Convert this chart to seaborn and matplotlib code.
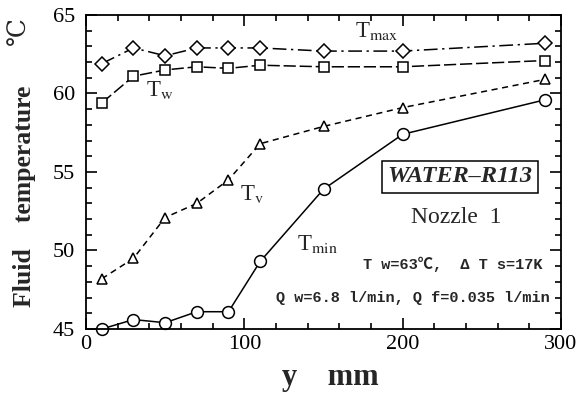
import matplotlib
matplotlib.use("Agg")
import matplotlib.pyplot as plt
import seaborn as sns
import pandas as pd
from matplotlib.ticker import MultipleLocator

y_mm = [10, 30, 50, 70, 90, 110, 150, 200, 290]
t_max = [61.9, 62.9, 62.4, 62.9, 62.9, 62.9, 62.7, 62.7, 63.2]
t_w = [59.4, 61.1, 61.5, 61.7, 61.6, 61.8, 61.7, 61.7, 62.1]
t_v = [48.2, 49.5, 52.1, 53.0, 54.5, 56.8, 57.9, 59.1, 60.9]
t_min = [45.0, 45.6, 45.4, 46.1, 46.1, 49.3, 53.9, 57.4, 59.6]

x_ticks = [0, 100, 200, 300]
y_ticks = [45, 50, 55, 60, 65]

sns.set_theme(style="ticks")
plt.rcParams['font.family'] = ['Liberation Serif', 'DejaVu Serif']
plt.rcParams['mathtext.fontset'] = 'stix'

fig = plt.figure(figsize=(5.81, 3.94), dpi=100)
ax = fig.add_axes([0.148, 0.165, 0.8176, 0.797])

df = pd.DataFrame({"y": y_mm, "Tmax": t_max, "Tw": t_w, "Tv": t_v, "Tmin": t_min})

common = dict(color="black", markerfacecolor="white", markeredgecolor="black",
              markeredgewidth=1.1, linewidth=1.1, ax=ax, sort=False, clip_on=False)
sns.lineplot(data=df, x="y", y="Tmax", marker="D", markersize=7,
             linestyle=(0, (9, 3, 1.5, 3)), **common)
sns.lineplot(data=df, x="y", y="Tw", marker="s", markersize=6.5,
             linestyle=(0, (8, 2.5)), **common)
sns.lineplot(data=df, x="y", y="Tv", marker="^", markersize=6.5,
             linestyle=(0, (4, 3)), **common)
sns.lineplot(data=df, x="y", y="Tmin", marker="o", markersize=8.5,
             linestyle="-", **common)

ax.set_xlim(0, 300)
ax.set_ylim(45, 65)
ax.set_xticks(x_ticks)
ax.set_yticks(y_ticks)
ax.xaxis.set_minor_locator(MultipleLocator(20))
ax.yaxis.set_minor_locator(MultipleLocator(1))
ax.tick_params(which="both", direction="in", top=True, right=True, colors="black",
               labelsize=16, width=1.2)
ax.tick_params(which="major", length=8)
ax.tick_params(which="minor", length=4.5)
ax.tick_params(axis="x", pad=4)
ax.tick_params(axis="y", pad=8)
for s in ax.spines.values():
    s.set_color("black")
    s.set_linewidth(1.3)

ax.set_xlabel("")
ax.set_ylabel("")
fig.text(330 / 581, 1 - 378 / 394, "y    mm", fontsize=22, fontweight="bold",
         ha="center", va="center")
fig.text(25 / 581, 1 - 196 / 394, "Fluid    temperature", fontsize=18.5,
         fontweight="bold", rotation=90, ha="center", va="center")
fig.text(19 / 581, 1 - 31 / 394, "\u2103", fontsize=18, rotation=90,
         family=["DejaVu Serif", "DejaVu Sans", "Noto Sans CJK JP"],
         ha="center", va="center")

ax.text(170, 64.0, r"T$_{\rm max}$", fontsize=16.5, ha="left", va="center")
ax.text(38, 60.2, r"T$_{\rm w}$", fontsize=16.5, ha="left", va="center")
ax.text(97, 53.6, r"T$_{\rm v}$", fontsize=16.5, ha="left", va="center")
ax.text(133, 50.4, r"T$_{\rm min}$", fontsize=16.5, ha="left", va="center")

ax.text(236, 54.7, "WATER\u2013R113", fontsize=17.5, fontstyle="italic",
        fontweight="bold", ha="center", va="center",
        bbox=dict(boxstyle="square,pad=0.22", facecolor="white",
                  edgecolor="black", linewidth=1.1))
ax.text(234, 52.1, "Nozzle  1", fontsize=17, ha="center", va="center")
mono = ["Liberation Mono", "Noto Sans CJK JP", "DejaVu Sans Mono"]
ax.text(288, 49.1, "T w=63\u2103,  \u0394 T s=17K", fontsize=11, fontweight="bold",
        family=mono, ha="right", va="center")
ax.text(293, 47.0, "Q w=6.8 l/min, Q f=0.035 l/min", fontsize=11, fontweight="bold",
        family=mono, ha="right", va="center")

fig.savefig("out.png", dpi=100)
